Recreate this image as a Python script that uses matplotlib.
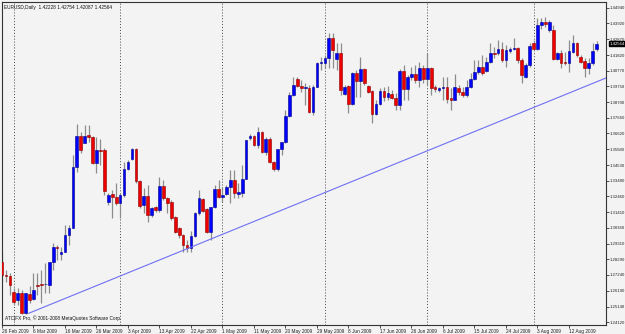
import numpy as np
import matplotlib
matplotlib.use('Agg')
import matplotlib.pyplot as plt
import matplotlib.transforms as mtransforms

# daily EURUSD candles (open, high, low, close)
opens = [1.2810, 1.2724, 1.2717, 1.2611, 1.2558, 1.2604, 1.2472, 1.2598, 1.2565, 1.2657,
         1.2664, 1.2664, 1.2657, 1.2810, 1.2909, 1.2866, 1.2876, 1.2989, 1.3035, 1.3440,
         1.3645, 1.3599, 1.3652, 1.3639, 1.3466, 1.3553, 1.3553, 1.3208, 1.3261, 1.3241,
         1.3201, 1.3254, 1.3427, 1.3493, 1.3559, 1.3347, 1.3188, 1.3248, 1.3122, 1.3175,
         1.3155, 1.3314, 1.3234, 1.3208, 1.3108, 1.3035, 1.2989, 1.2923, 1.2903, 1.2982,
         1.3135, 1.3228, 1.3161, 1.3009, 1.3175, 1.3294, 1.3241, 1.3261, 1.3307, 1.3354,
         1.3261, 1.3267, 1.3360, 1.3632, 1.3645, 1.3586, 1.3672, 1.3539, 1.3625, 1.3473,
         1.3427, 1.3559, 1.3606, 1.3778, 1.3917, 1.4023, 1.3977, 1.3963, 1.3963, 1.3804,
         1.3970, 1.4129, 1.4129, 1.4162, 1.4295, 1.4156, 1.4196, 1.3924, 1.3977, 1.3857,
         1.4063, 1.4010, 1.4090, 1.3977, 1.3944, 1.3791, 1.3857, 1.3944, 1.3904, 1.3924,
         1.3897, 1.3851, 1.4076, 1.3957, 1.4036, 1.4056, 1.4017, 1.4096, 1.4023, 1.4096,
         1.3970, 1.3950, 1.3963, 1.3970, 1.3897, 1.3884, 1.3963, 1.3937, 1.3917, 1.3970,
         1.4023, 1.4070, 1.4103, 1.4076, 1.4136, 1.4196, 1.4196, 1.4222, 1.4149, 1.4209,
         1.4222, 1.4229, 1.4149, 1.4036, 1.4116, 1.4262, 1.4222, 1.4381, 1.4401, 1.4348,
         1.4348, 1.4156, 1.4196, 1.4136, 1.4129, 1.4202, 1.4262, 1.4169, 1.4143, 1.4096,
         1.4129, 1.42228]
highs = [1.2876, 1.2757, 1.2737, 1.2638, 1.2638, 1.2624, 1.2604, 1.2651, 1.2737, 1.2737,
         1.2757, 1.2803, 1.2810, 1.2936, 1.2923, 1.2909, 1.3055, 1.3055, 1.3519, 1.3725,
         1.3672, 1.3718, 1.3718, 1.3645, 1.3639, 1.3625, 1.3566, 1.3267, 1.3287, 1.3334,
         1.3267, 1.3473, 1.3486, 1.3566, 1.3566, 1.3354, 1.3301, 1.3320, 1.3175, 1.3181,
         1.3374, 1.3354, 1.3241, 1.3221, 1.3115, 1.3042, 1.2996, 1.2956, 1.3015, 1.3141,
         1.3287, 1.3234, 1.3168, 1.3175, 1.3320, 1.3354, 1.3307, 1.3320, 1.3420, 1.3420,
         1.3334, 1.3453, 1.3619, 1.3659, 1.3652, 1.3705, 1.3679, 1.3639, 1.3639, 1.3480,
         1.3559, 1.3606, 1.3818, 1.3937, 1.4036, 1.4036, 1.4017, 1.3997, 1.3983, 1.3983,
         1.4136, 1.4169, 1.4182, 1.4328, 1.4328, 1.4262, 1.4262, 1.3983, 1.3983, 1.4070,
         1.4083, 1.4169, 1.4096, 1.3983, 1.3950, 1.3884, 1.3963, 1.3970, 1.3977, 1.3950,
         1.3930, 1.4090, 1.4116, 1.4050, 1.4103, 1.4116, 1.4136, 1.4116, 1.4196, 1.4103,
         1.3983, 1.3970, 1.4036, 1.4036, 1.3963, 1.4056, 1.3983, 1.3970, 1.4017, 1.4063,
         1.4149, 1.4149, 1.4182, 1.4169, 1.4262, 1.4235, 1.4282, 1.4269, 1.4249, 1.4235,
         1.4295, 1.4235, 1.4162, 1.4129, 1.4262, 1.4282, 1.4428, 1.4428, 1.4434, 1.4414,
         1.4381, 1.4202, 1.4216, 1.4202, 1.4282, 1.4315, 1.4269, 1.4182, 1.4162, 1.4162,
         1.4262, 1.42754]
lows = [1.2677, 1.2677, 1.2591, 1.2525, 1.2525, 1.2465, 1.2465, 1.2538, 1.2558, 1.2591,
        1.2538, 1.2604, 1.2604, 1.2757, 1.2823, 1.2823, 1.2876, 1.2923, 1.3035, 1.3407,
        1.3533, 1.3599, 1.3606, 1.3460, 1.3400, 1.3453, 1.3254, 1.3188, 1.3102, 1.3188,
        1.3102, 1.3241, 1.3420, 1.3486, 1.3334, 1.3168, 1.3135, 1.3075, 1.3108, 1.3141,
        1.3141, 1.3221, 1.3135, 1.3088, 1.3002, 1.2969, 1.2876, 1.2876, 1.2876, 1.2976,
        1.3122, 1.3141, 1.3002, 1.2956, 1.3168, 1.3234, 1.3208, 1.3254, 1.3201, 1.3234,
        1.3234, 1.3241, 1.3360, 1.3619, 1.3579, 1.3566, 1.3533, 1.3519, 1.3466, 1.3413,
        1.3413, 1.3519, 1.3599, 1.3771, 1.3910, 1.3970, 1.3937, 1.3851, 1.3798, 1.3785,
        1.3970, 1.4083, 1.4096, 1.4096, 1.4096, 1.4083, 1.3917, 1.3917, 1.3798, 1.3851,
        1.3904, 1.3904, 1.3983, 1.3930, 1.3732, 1.3785, 1.3851, 1.3877, 1.3884, 1.3891,
        1.3818, 1.3818, 1.3884, 1.3884, 1.4017, 1.3997, 1.3970, 1.3997, 1.3983, 1.3917,
        1.3937, 1.3937, 1.3884, 1.3864, 1.3818, 1.3884, 1.3917, 1.3904, 1.3904, 1.3963,
        1.4017, 1.4056, 1.4050, 1.4070, 1.4129, 1.4162, 1.4182, 1.4136, 1.4103, 1.4196,
        1.4216, 1.4129, 1.3997, 1.4030, 1.4103, 1.4216, 1.4216, 1.4355, 1.4368, 1.4335,
        1.4149, 1.4149, 1.4096, 1.4116, 1.4070, 1.4196, 1.4169, 1.4129, 1.4036, 1.4056,
        1.4116, 1.42087]
closes = [1.2724, 1.2717, 1.2657, 1.2545, 1.2604, 1.2472, 1.2604, 1.2558, 1.2624, 1.2654,
          1.2660, 1.2667, 1.2810, 1.2909, 1.2900, 1.2876, 1.2989, 1.3035, 1.3440, 1.3645,
          1.3553, 1.3645, 1.3639, 1.3466, 1.3553, 1.3546, 1.3281, 1.3254, 1.3241, 1.3201,
          1.3254, 1.3427, 1.3473, 1.3559, 1.3347, 1.3181, 1.3248, 1.3122, 1.3168, 1.3155,
          1.3314, 1.3234, 1.3201, 1.3102, 1.3009, 1.2989, 1.2923, 1.2903, 1.2982, 1.3135,
          1.3234, 1.3148, 1.3009, 1.3175, 1.3294, 1.3241, 1.3254, 1.3307, 1.3354, 1.3267,
          1.3274, 1.3360, 1.3619, 1.3645, 1.3586, 1.3672, 1.3539, 1.3625, 1.3473, 1.3427,
          1.3559, 1.3606, 1.3778, 1.3917, 1.3983, 1.3977, 1.3963, 1.3970, 1.3804, 1.3970,
          1.4129, 1.4136, 1.4162, 1.4295, 1.4216, 1.4196, 1.3950, 1.3970, 1.3857, 1.4063,
          1.4010, 1.4090, 1.3997, 1.3937, 1.3791, 1.3857, 1.3944, 1.3904, 1.3930, 1.3897,
          1.3851, 1.4076, 1.3957, 1.4036, 1.4056, 1.4017, 1.4096, 1.4023, 1.4096, 1.3963,
          1.3957, 1.3963, 1.3970, 1.3891, 1.3884, 1.3970, 1.3937, 1.3917, 1.3970, 1.4023,
          1.4070, 1.4103, 1.4063, 1.4136, 1.4196, 1.4189, 1.4222, 1.4149, 1.4216, 1.4222,
          1.4229, 1.4149, 1.4050, 1.4116, 1.4242, 1.4222, 1.4381, 1.4401, 1.4388, 1.4401,
          1.4156, 1.4196, 1.4129, 1.4129, 1.4209, 1.4262, 1.4182, 1.4136, 1.4096, 1.4129,
          1.4209, 1.42564]

date_labels = ['26 Feb 2009', '6 Mar 2009', '16 Mar 2009', '26 Mar 2009', '3 Apr 2009',
               '13 Apr 2009', '22 Apr 2009', '1 May 2009', '11 May 2009', '20 May 2009',
               '29 May 2009', '8 Jun 2009', '17 Jun 2009', '26 Jun 2009', '6 Jul 2009',
               '15 Jul 2009', '24 Jul 2009', '3 Aug 2009', '12 Aug 2009']
price_ticks = [1.44940, 1.43920, 1.42870, 1.41820, 1.40770, 1.39750, 1.38700, 1.37660,
               1.36620, 1.35580, 1.34530, 1.33480, 1.32460, 1.31410, 1.30360, 1.29310,
               1.28290, 1.27240, 1.26190, 1.25140, 1.24120]
month_starts = [3, 30, 56, 82, 108, 135]   # bar index of period separators
trend_x = [6.8, 153.4]
trend_y = [1.2470, 1.4030]

plt.rcParams['font.family'] = ['Liberation Sans', 'DejaVu Sans']
fs = 3.4
fs_y = 3.1

W, H = 625, 334
fig = plt.figure(figsize=(W/100, H/100), dpi=100)
bg = '#f3f3f3'
fig.patch.set_facecolor(bg)
ax = fig.add_axes([2/W, 9/H, 604/W, 323/H])
ax.set_facecolor(bg)

o = np.array(opens); h = np.array(highs); l = np.array(lows); c = np.array(closes)
x = np.arange(len(o))
up = c >= o
col = np.where(up, '#0000ff', '#ee0000')
edge = np.where(up, '#00008a', '#8a0000')

ax.vlines(x, l, h, color='#8c8c8c', lw=0.9, zorder=2)
bot = np.minimum(o, c)
hgt = np.maximum(np.abs(c - o), 0.00025)
ax.bar(x, hgt, bottom=bot, width=0.68, color=col, edgecolor=edge, lw=0.4, zorder=3)

for m in month_starts:
    ax.axvline(m, color='#444444', lw=0.7, ls=(0, (1, 2)), zorder=1)

ax.plot(trend_x, trend_y, color='#6f6ff5', lw=0.8, zorder=4)

ax.set_xlim(0.13, 153.4)
ax.set_ylim(1.23922, 1.45337)

ax.yaxis.tick_right()
ax.set_yticks(price_ticks)
ax.set_yticklabels(['%.5f' % v for v in price_ticks])
ax.set_xticks(np.arange(0, 8*len(date_labels), 8))
ax.set_xticklabels(date_labels)
for lab in ax.get_xticklabels():
    lab.set_ha('left')
ax.tick_params(axis='both', length=2, width=0.6, color='#333333', labelcolor='#222222')
ax.tick_params(axis='y', labelsize=fs_y, pad=0.8)
ax.tick_params(axis='x', labelsize=fs, pad=1)
for sp in ax.spines.values():
    sp.set_color('#333333')
    sp.set_linewidth(0.8)

# current price marker on the price scale
trans = mtransforms.blended_transform_factory(ax.transAxes, ax.transData)
ax.text(1.0062, closes[-1], '%.5f' % closes[-1], transform=trans, fontsize=fs_y,
        color='white', va='center', ha='left', zorder=10, clip_on=False,
        bbox=dict(boxstyle='square,pad=0.15', fc='black', ec='black'))

ax.text(0.003, 0.992, 'EURUSD,Daily  1.42228 1.42754 1.42087 1.42564',
        transform=ax.transAxes, fontsize=fs, va='top', ha='left', color='#111111')
ax.text(0.005, 0.012, 'ATC|FX Pro, \u00a9 2001-2008 MetaQuotes Software Corp.',
        transform=ax.transAxes, fontsize=fs, va='bottom', ha='left', color='#111111')

fig.savefig('out.png', dpi=100, facecolor=bg)
